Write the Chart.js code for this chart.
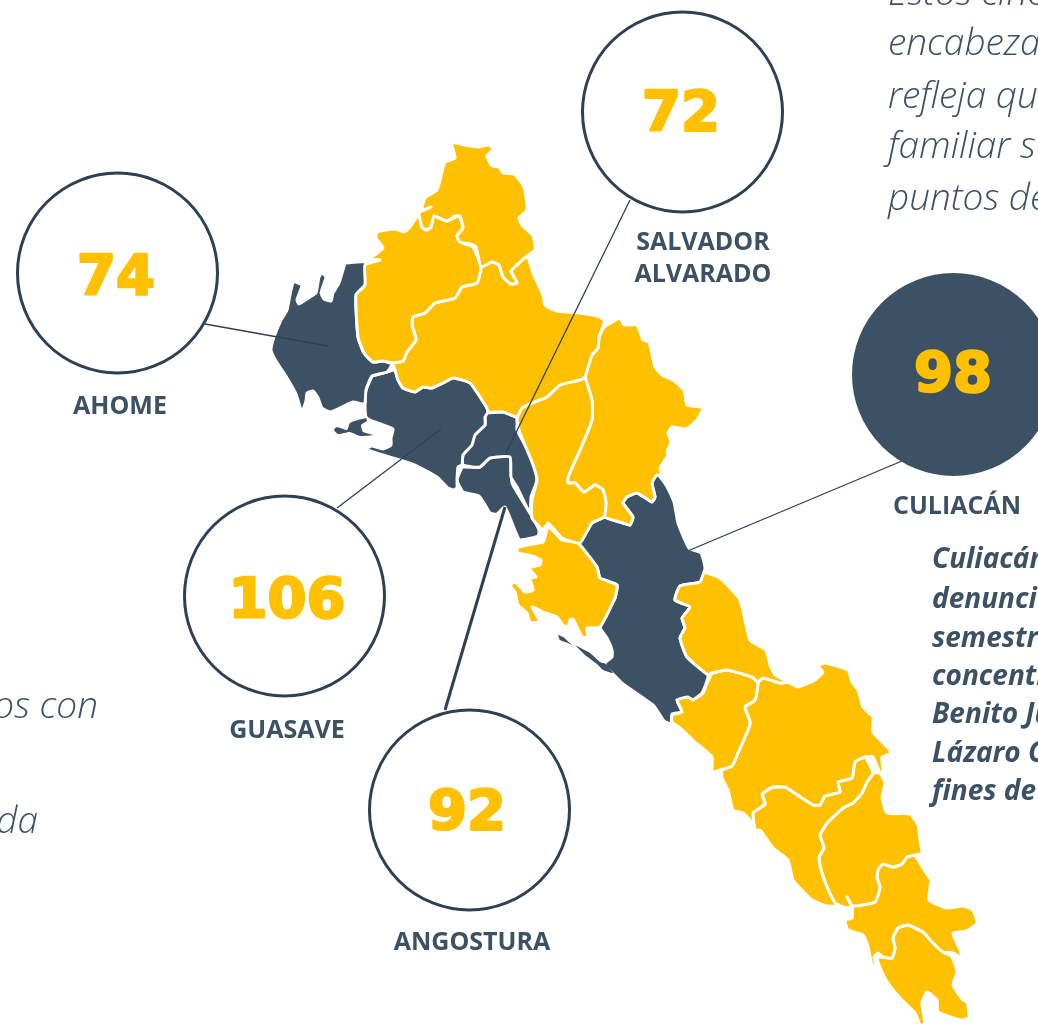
<!DOCTYPE html>
<html>
<head>
<meta charset="utf-8">
<script src="https://cdn.jsdelivr.net/npm/chart.js@4/dist/chart.umd.min.js"></script>
<style>
  html, body { margin: 0; background: #fff; overflow: hidden; }
  canvas { display: block; }
</style>
</head>
<body>
<canvas id="mapChart" width="1038" height="1025"></canvas>
<script>
const DARK = '#3d5164';
const LINE = '#2e4053';
const YELLOW = '#ffc000';

// municipalities with a circle
const municipios = ['AHOME', 'SALVADOR ALVARADO', 'CULIACÁN', 'GUASAVE', 'ANGOSTURA'];
const denuncias  = [74, 72, 98, 106, 92];
const circleX    = [117.5, 682.5, 953.5, 284.5, 469.5];
const circleY    = [273, 112, 374.5, 596, 810];

// leader lines, circle edge to municipality
const leaderX = [[205, 328], [630, 505], [902, 690], [337, 441], [445, 505]];
const leaderY = [[324, 346], [200, 455], [461, 550], [508, 429], [710, 507]];

// outlines, [x, y] in picture pixels
const choix = [[451,142],[460,144],[477,147],[490,145],[493,150],[487,156],[492,166],[499,167],[503,173],[514,174],[524,187],[527,210],[519,218],[522,225],[533,236],[535,250],[527,256],[518,264],[511,271],[517,283],[511,284],[503,277],[499,265],[492,262],[481,267],[476,247],[470,244],[460,242],[457,236],[463,228],[460,216],[455,216],[447,221],[434,216],[431,227],[426,230],[422,227],[419,213],[431,207],[422,210],[425,198],[437,190],[442,172],[445,162],[455,158]];
const elFuerte = [[419,215],[423,228],[427,230],[431,227],[434,216],[447,221],[459,216],[463,228],[457,236],[460,242],[473,247],[481,267],[477,283],[462,287],[455,298],[435,303],[425,313],[413,317],[412,325],[416,340],[407,352],[403,361],[393,363],[383,361],[373,362],[364,353],[358,337],[356,295],[365,285],[365,265],[380,260],[370,259],[383,248],[376,238],[377,232],[395,229],[404,232],[410,227],[417,216]];
const sinaloa = [[481,267],[492,262],[499,265],[503,277],[511,284],[517,283],[511,271],[518,264],[527,256],[533,273],[543,295],[545,305],[557,311],[580,313],[597,316],[604,320],[603,327],[599,337],[598,348],[592,355],[585,377],[580,380],[560,385],[547,397],[532,403],[522,408],[517,417],[503,412],[488,412],[487,408],[470,383],[453,378],[443,383],[432,388],[423,387],[415,392],[403,388],[398,380],[395,370],[393,363],[403,361],[407,352],[416,340],[412,325],[413,317],[425,313],[435,303],[455,298],[462,287],[477,283]];
const ahome = [[345,263],[365,262],[367,273],[365,285],[356,295],[358,337],[364,353],[373,362],[383,361],[392,364],[387,372],[372,376],[366,390],[365,403],[362,404],[353,402],[340,408],[330,412],[322,408],[318,398],[313,391],[307,393],[306,401],[302,412],[296,394],[287,378],[276,361],[271,350],[274,337],[281,320],[287,310],[291,290],[294,282],[302,285],[297,300],[299,304],[310,297],[316,293],[319,277],[322,273],[326,277],[321,293],[324,299],[331,301],[333,293],[339,283]];
const guasave = [[372,376],[387,372],[395,370],[398,380],[403,388],[415,392],[423,387],[432,388],[443,383],[453,378],[470,383],[487,408],[488,412],[485,417],[485,425],[475,435],[472,445],[463,455],[462,465],[458,467],[457,480],[457,488],[453,490],[448,488],[437,477],[417,466],[400,460],[370,451],[367,448],[372,446],[383,449],[391,445],[391,438],[393,429],[383,425],[370,420],[366,417],[365,403],[366,390]];
const salvadorAlvarado = [[485,413],[503,412],[517,418],[517,430],[533,460],[537,480],[531,497],[530,513],[517,487],[511,477],[510,457],[490,458],[480,467],[463,465],[463,455],[473,435],[485,425],[485,417]];
const angostura = [[462,467],[480,467],[490,458],[510,457],[512,483],[530,513],[539,530],[538,536],[520,540],[516,533],[505,507],[497,514],[490,513],[484,503],[479,496],[463,492],[457,480]];
const mocorito = [[585,377],[592,400],[592,420],[580,450],[568,477],[568,483],[575,483],[584,492],[595,485],[603,490],[606,503],[604,517],[592,523],[580,543],[562,538],[548,523],[543,530],[532,518],[532,500],[537,480],[532,462],[520,433],[517,420],[520,410],[532,403],[547,397],[560,385],[580,380]];
const badiraguato = [[604,327],[620,318],[624,325],[637,325],[643,340],[649,342],[655,367],[662,375],[673,380],[684,390],[687,405],[703,408],[697,420],[686,429],[672,427],[668,433],[671,442],[667,452],[668,455],[660,468],[662,475],[657,475],[652,483],[655,497],[652,502],[637,493],[627,497],[623,503],[633,517],[630,525],[623,523],[605,517],[606,503],[603,490],[595,485],[584,492],[575,483],[568,483],[568,477],[580,450],[592,420],[592,400],[585,377],[592,355],[598,348],[599,337]];
const navolato = [[548,525],[562,540],[578,543],[597,567],[600,578],[617,585],[615,598],[600,627],[587,628],[588,637],[582,637],[573,619],[570,620],[568,627],[563,625],[557,617],[545,613],[532,607],[540,622],[530,622],[527,613],[518,605],[515,592],[510,585],[515,582],[525,592],[533,590],[530,578],[536,577],[529,568],[540,565],[541,560],[528,555],[518,553],[517,548],[527,545],[543,542]];
const culiacan = [[605,517],[623,523],[630,525],[633,517],[623,503],[627,497],[637,493],[652,502],[655,497],[652,483],[657,474],[666,485],[674,502],[678,523],[689,548],[701,553],[705,568],[700,582],[680,586],[675,600],[690,607],[682,618],[685,628],[680,638],[687,657],[708,675],[702,693],[692,700],[677,700],[682,712],[672,714],[671,724],[664,721],[654,706],[623,684],[613,674],[606,667],[605,663],[612,657],[612,650],[607,638],[600,627],[615,598],[617,585],[600,578],[597,567],[578,543],[580,543],[592,523]];
const cosala = [[704,572],[720,578],[740,600],[750,640],[766,650],[770,665],[775,675],[788,682],[780,683],[763,678],[758,682],[752,677],[727,670],[712,673],[708,675],[687,657],[680,638],[685,628],[682,618],[690,607],[675,600],[680,586],[700,582]];
const elota = [[712,673],[707,683],[703,693],[693,700],[688,697],[677,700],[682,712],[672,715],[672,722],[680,728],[695,742],[712,757],[712,772],[720,770],[732,766],[738,753],[748,730],[750,722],[745,707],[755,700],[758,682],[752,677],[727,670]];
const sanIgnacio = [[758,682],[763,678],[780,683],[788,682],[798,687],[815,680],[823,672],[818,666],[825,663],[848,670],[852,682],[858,690],[863,707],[873,717],[873,732],[890,750],[890,754],[882,757],[883,773],[880,773],[873,757],[865,757],[855,762],[852,778],[838,782],[840,792],[825,796],[820,805],[813,805],[793,792],[785,787],[773,787],[762,794],[765,804],[753,813],[755,830],[750,820],[743,813],[733,810],[728,790],[722,778],[722,770],[732,766],[738,753],[748,730],[750,722],[745,707],[755,700]];
const mazatlan = [[762,794],[773,787],[785,787],[793,792],[813,805],[820,805],[825,796],[840,792],[838,782],[852,778],[855,762],[865,757],[873,773],[867,782],[862,793],[853,803],[843,808],[828,822],[820,835],[824,848],[819,857],[821,870],[827,887],[835,903],[840,906],[827,906],[812,900],[793,880],[788,860],[773,848],[760,830],[755,830],[753,813],[765,804]];
const concordia = [[873,773],[880,773],[885,783],[882,797],[887,813],[910,814],[918,825],[920,840],[922,853],[915,855],[907,857],[902,864],[893,867],[883,864],[878,870],[877,878],[880,887],[875,902],[853,906],[847,897],[852,908],[840,906],[835,903],[827,887],[821,870],[819,857],[824,848],[820,835],[828,822],[843,808],[853,803],[862,793],[867,782]];
const rosario = [[915,855],[928,876],[931,880],[929,900],[947,908],[963,906],[973,910],[977,923],[967,931],[953,933],[960,950],[962,958],[953,953],[943,952],[932,942],[923,932],[908,925],[898,928],[893,938],[895,948],[892,958],[883,957],[878,953],[874,957],[876,965],[872,965],[868,947],[863,935],[848,930],[845,920],[852,918],[853,906],[875,902],[880,887],[877,878],[878,870],[883,864],[893,867],[902,864],[907,857]];
const escuinapa = [[908,925],[923,932],[932,942],[943,952],[952,957],[957,972],[953,985],[963,1000],[967,1002],[969,1018],[960,1020],[938,1012],[937,1000],[927,992],[922,1003],[925,1025],[920,1025],[915,1013],[900,998],[888,983],[882,972],[877,958],[883,957],[892,958],[895,948],[893,938],[898,928]];

// thin bits of coast, no white edge on these
const barraGuasave = [[366,418],[358,420],[350,423],[347,430],[337,427],[334,430],[338,434],[350,432],[360,436],[373,435],[363,432],[361,425],[367,421]];
const barraCuliacan = [[575,645],[590,653],[600,662],[606,664],[613,673],[603,670],[597,664],[585,655]];
const islaCuliacan = [[558,635],[563,637],[572,645],[568,643],[560,640]];

const darkShapes   = [ahome, guasave, salvadorAlvarado, angostura, culiacan];
const yellowShapes = [choix, elFuerte, sinaloa, mocorito, badiraguato, navolato, cosala, elota, sanIgnacio, mazatlan, concordia, rosario, escuinapa];
const coastShapes  = [barraGuasave, barraCuliacan, islaCuliacan];

// captions
const captionLines = ['AHOME', 'SALVADOR', 'ALVARADO', 'GUASAVE', 'ANGOSTURA', 'CULIACÁN'];
const captionX     = [120, 703, 703, 287, 472, 957];
const captionY     = [414, 250, 282, 738, 950, 514];

const numberX = [116, 681, 953, 287, 467];
const numberY = [294, 130, 391, 617, 829];

// body copy, cut off by the page edge in the original
const introLines = ['Estos cinco', 'encabezan', 'refleja que', 'familiar se', 'puntos de'];
const introY     = [5, 55, 108, 158, 210];
const noteLines  = ['Culiacán', 'denuncias', 'semestre', 'concentra', 'Benito Juárez', 'Lázaro Cárdenas', 'fines de'];
const noteY      = [568, 608, 647, 685, 723, 762, 800];
const leftLines  = ['os con', 'da'];
const leftX      = [98, 38];
const leftY      = [718, 833];

function shapeDataset(shape, color, edge) {
  const pts = shape.map(p => ({ x: p[0], y: p[1] }));
  pts.push(pts[0]);
  return {
    type: 'scatter',
    data: pts,
    showLine: true,
    fill: 'shape',
    backgroundColor: color,
    borderColor: edge ? '#ffffff' : color,
    borderWidth: edge ? 3 : 0,
    borderJoinStyle: 'round',
    pointRadius: 0,
    tension: 0.15,
    order: 3
  };
}

const datasets = [];
coastShapes.forEach(s => datasets.push(shapeDataset(s, DARK, false)));
yellowShapes.forEach(s => datasets.push(shapeDataset(s, YELLOW, true)));
darkShapes.forEach(s => datasets.push(shapeDataset(s, DARK, true)));

leaderX.forEach((xs, i) => {
  datasets.push({
    type: 'scatter',
    data: xs.map((x, j) => ({ x: x, y: leaderY[i][j] })),
    showLine: true,
    fill: false,
    borderColor: LINE,
    borderWidth: i === 4 ? 3 : 1.3,
    pointRadius: 0,
    order: 2
  });
});

datasets.push({
  type: 'bubble',
  data: denuncias.map((v, i) => ({ x: circleX[i], y: circleY[i], r: 100 })),
  backgroundColor: municipios.map(m => m === 'CULIACÁN' ? DARK : '#ffffff'),
  borderColor: municipios.map(m => m === 'CULIACÁN' ? DARK : LINE),
  borderWidth: 3,
  order: 1
});

// texts go through the same scales as the marks
const textPlugin = {
  id: 'mapText',
  afterDraw(chart) {
    const { ctx, scales: { x, y } } = chart;
    ctx.save();
    ctx.textBaseline = 'alphabetic';
    ctx.fillStyle = DARK;

    ctx.textAlign = 'center';
    ctx.font = '700 25px "Open Sans"';
    captionLines.forEach((t, i) => ctx.fillText(t, x.getPixelForValue(captionX[i]), y.getPixelForValue(captionY[i])));

    // the original numerals are heavier than any installed bold, so stroke them too
    ctx.font = 'bold 56px "DejaVu Sans"';
    ctx.fillStyle = YELLOW;
    ctx.strokeStyle = YELLOW;
    ctx.lineWidth = 2.5;
    ctx.lineJoin = 'round';
    denuncias.forEach((v, i) => {
      ctx.fillText(String(v), x.getPixelForValue(numberX[i]), y.getPixelForValue(numberY[i]));
      ctx.strokeText(String(v), x.getPixelForValue(numberX[i]), y.getPixelForValue(numberY[i]));
    });

    ctx.fillStyle = DARK;
    ctx.textAlign = 'left';
    ctx.font = 'italic 300 37px "Open Sans"';
    introLines.forEach((t, i) => ctx.fillText(t, x.getPixelForValue(888), y.getPixelForValue(introY[i])));

    ctx.textAlign = 'right';
    leftLines.forEach((t, i) => ctx.fillText(t, x.getPixelForValue(leftX[i]), y.getPixelForValue(leftY[i])));

    ctx.textAlign = 'left';
    ctx.font = 'italic 700 28px "Open Sans"';
    noteLines.forEach((t, i) => ctx.fillText(t, x.getPixelForValue(932), y.getPixelForValue(noteY[i])));
    ctx.restore();
  }
};

new Chart(document.getElementById('mapChart').getContext('2d'), {
  type: 'scatter',
  data: { datasets: datasets },
  plugins: [textPlugin],
  options: {
    responsive: false,
    animation: false,
    layout: { padding: 0, autoPadding: false },
    plugins: {
      legend: { display: false },
      tooltip: { enabled: false }
    },
    scales: {
      x: { type: 'linear', min: 0, max: 1038, display: false },
      y: { type: 'linear', min: 0, max: 1025, reverse: true, display: false }
    }
  }
});
</script>
</body>
</html>
